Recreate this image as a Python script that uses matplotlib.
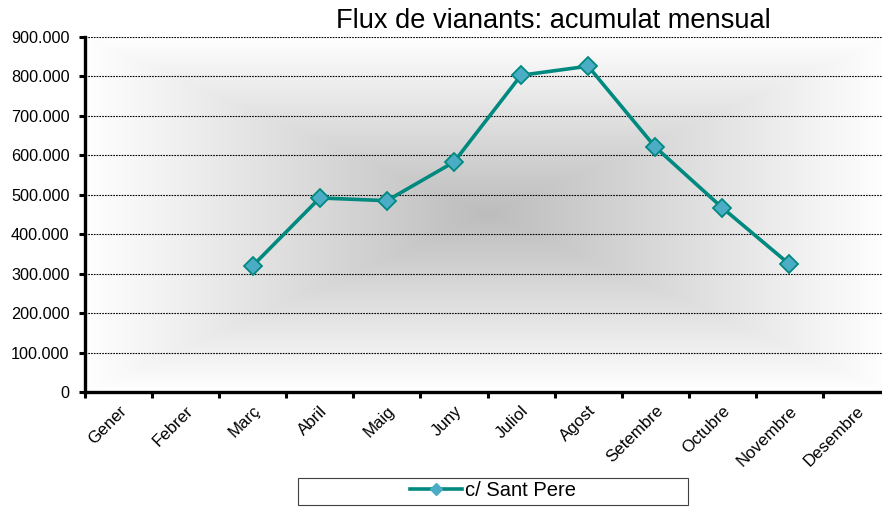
import numpy as np
import matplotlib
matplotlib.use("Agg")
import matplotlib.pyplot as plt
from matplotlib.ticker import FuncFormatter, FixedLocator
from matplotlib.lines import Line2D
from matplotlib.patches import Rectangle

plt.rcParams['font.family'] = ['Liberation Sans', 'DejaVu Sans']

months = ["Gener", "Febrer", "Març", "Abril", "Maig", "Juny", "Juliol",
          "Agost", "Setembre", "Octubre", "Novembre", "Desembre"]
values = [np.nan, np.nan, 320000, 492000, 485000, 583000, 803000,
          826000, 621000, 467000, 324000, np.nan]
series_name = "c/ Sant Pere"
title = "Flux de vianants: acumulat mensual"
yticks = list(range(0, 900001, 100000))

line_color = "#00897E"
marker_face = "#4BACC6"

fig = plt.figure(figsize=(8.82, 5.07), dpi=100)
fig.patch.set_facecolor("white")
ax = fig.add_axes([85/882, (507-392)/507, 805/882, 355/507])

# background gradient (rectangular from-centre)
nx, ny = 400, 200
u = np.linspace(-1, 1, nx)
v = np.linspace(-1, 1, ny)
U, V = np.meshgrid(u, v)
T = np.maximum(np.abs(U), np.abs(V))
c0 = 0.74
G = c0 + (1 - c0) * T
img = np.dstack([G, G, G])
ax.imshow(img, extent=(-0.5, 11.5, 0, 900000), aspect='auto', zorder=0,
          interpolation='bilinear')

x = np.arange(len(months))
ax.plot(x, values, color=line_color, lw=2.6, marker="D", markersize=9,
        markerfacecolor=marker_face, markeredgecolor=line_color,
        markeredgewidth=1.3, zorder=3)

ax.set_xlim(-0.5, 11.5)
ax.set_ylim(0, 900000)
ax.set_yticks(yticks)
ax.yaxis.set_major_formatter(FuncFormatter(lambda v, p: f"{int(v):,}".replace(",", ".")))
ax.grid(axis='y', color='black', linestyle=(0, (1.5, 1)), lw=0.8, zorder=1)

ax.xaxis.set_major_locator(FixedLocator(np.arange(-0.5, 12, 1)))
ax.xaxis.set_minor_locator(FixedLocator(x))
ax.set_xticklabels([], minor=False)
ax.set_xticklabels(months, minor=True, rotation=45, ha='right',
                   rotation_mode='anchor', fontsize=12.2)
ax.tick_params(axis='x', which='major', length=4, width=2.2, direction='out')
ax.tick_params(axis='x', which='minor', length=0, pad=8)
ax.tick_params(axis='y', length=4, width=2.2, direction='out', labelsize=11.7, pad=7)

for s in ['top', 'right']:
    ax.spines[s].set_visible(False)
for s in ['left', 'bottom']:
    ax.spines[s].set_linewidth(2.4)
    ax.spines[s].set_zorder(4)

fig.text(553/882, 1 - 21/507, title, ha='center', va='center', fontsize=19.6)

# legend box
fig.patches.append(Rectangle((298/882, 1 - 505/507), 390/882, 27/507,
                             transform=fig.transFigure, facecolor='white',
                             edgecolor='#404040', lw=0.8, zorder=-1))
proxy = Line2D([], [], color=line_color, lw=2.6, marker="D", markersize=6,
               markerfacecolor=marker_face, markeredgecolor=marker_face)
leg = fig.legend([proxy], [series_name], loc='center',
                 bbox_to_anchor=(493/882, 1 - 491/507),
                 frameon=False, fontsize=14.5, handlelength=2.6,
                 handletextpad=0.15)

fig.savefig("out.png", dpi=100)
